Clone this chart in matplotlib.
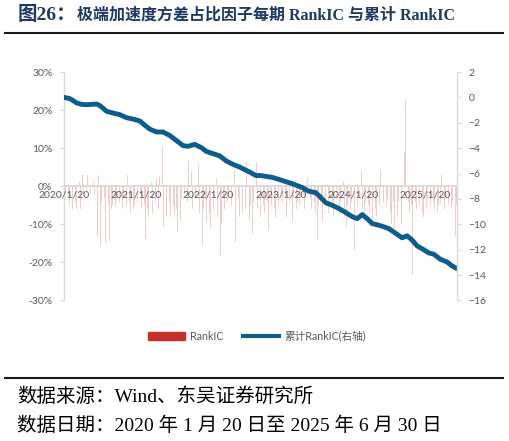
import numpy as np
import matplotlib
matplotlib.use('Agg')
import matplotlib.pyplot as plt
import matplotlib.patches as mpatches
import matplotlib.lines as mlines
from matplotlib.ticker import FuncFormatter

plt.rcParams['font.family'] = ['Lato', 'Noto Sans CJK SC']

# weekly RankIC (%), 2020/1/20 .. 2025/6/30
rank_ic = [
    0.5, -2, 1, -3, -5, -7, -6, -11, -4, -6,
    -3, 1, -6, 3, -2, 2.5, -1, 3, 2, -2,
    -1, 1.5, -2, 5.7, -13, 3, -15.8, -4, -11.6, -3,
    -15, -6, -5, -14.5, -6, -5, -4, -5, -3, -6,
    -4, -2, -6, -3, -10, -5, 3, -4, -7, -3,
    -6, -5, -8, -4, -7, -2, -6, -18, -5, -13.8,
    -6, -8, -3, 1, -7, -5, -4, 2, -6, 2.5,
    -3, 10.4, -10.7, -2, -8, -6, -4, -8, -3, -5,
    -7, -6, -12, -4, -9, -3, -14, -2, 5.3, -4,
    6.8, -3, 4, -6, -8, -3, -10, 5.8, -7, -5,
    -15.5, -6, -3, -9, 1, -7, -11, -5, -6, -3,
    2.3, -8, -4, -18, -10, -3, -6, -8, -4, -2,
    -9, -5, -12, 4, -14.6, -6, -3, -8, -5, -7,
    -4, -6, 6.4, -3, -9, -5, -12.5, -4, 2, 6.4,
    -6, -4, -8, -3, -5, -7, -2, -4, -11.6, -3,
    -5, 4.6, -6, -8, -3, -5, -7, -2, -4, -6,
    -3, -8, -5, -4, -2, -9, -3, 2.5, -6, -4,
    -5, -3, -7, -2, -6, -4, 2.3, -5, -3, -6,
    -10.7, -4, -7, -14.2, -5, -8, -3, -9, -6, -4,
    -5, -7, -3, -6, -4, -8, -5, -3, -6, -7,
    -4, -15.5, 1.5, -8, -10.7, -5, -3, -6, -4, -7,
    -16.7, 1.5, -5, -3, 20, 3.8, -6, -8, -4, -11.6,
    -5, -7, -3, -9, -4, -6, -8, -3, -5, 4.2,
    -6, -4, -9, -5, -3, 4.2, -7, -10, -4, -11,
    -5, -8, -4, -6, -10, 3.3, 9, 22.6, -6, -4,
    -7, -5, -23.4, -8, -4, -6, -9, -5, -3, -7,
    -8, -4, -6, -3, -9, -5, -10.7, -4, -6, -3,
    -7, -5, -4, 2.9, -8, -6, -3, -9, -5, -11,
    -6, -4, -7, -13, -5,
]

# cumulative RankIC (right axis), read at week positions
cum_week = [0, 4.3, 9.1, 12.8, 16.4, 23.6, 25.9, 30.8, 35.3, 40.3,
            45.2, 49.7, 54.8, 58.4, 62, 66.8, 71.5, 76.4, 81.2, 86,
            89.6, 94.4, 99.2, 102.8, 107.6, 112.4, 117.2, 122, 126.8, 134,
            138.8, 141.8, 150.6, 155.6, 165, 172.2, 177.2, 182, 185.7, 189.3,
            194, 198.8, 203.7, 208.4, 212, 215.6, 219.2, 222.8, 227.7, 231.3,
            234.9, 239.7, 244.5, 248, 251.7, 255.3, 260.1, 263.7, 267.3, 272.1,
            276.9, 280.5, 284]
cum_ic = [0.0, -0.1, -0.44, -0.55, -0.57, -0.52, -0.65, -1.1, -1.23, -1.36,
          -1.6, -1.7, -1.86, -2.2, -2.5, -2.72, -2.72, -3.0, -3.4, -3.8,
          -3.85, -3.7, -3.95, -4.25, -4.43, -4.6, -5.0, -5.27, -5.48, -5.87,
          -6.16, -6.15, -6.3, -6.47, -6.8, -7.1, -7.4, -7.5, -7.9, -8.3,
          -8.5, -8.76, -9.07, -9.4, -9.55, -9.23, -9.55, -9.94, -10.07, -10.2,
          -10.34, -10.7, -11.06, -10.9, -11.24, -11.7, -12.0, -12.25, -12.35, -12.75,
          -12.96, -13.27, -13.48]

tick_week = [0, 52.29, 104.43, 156.57, 208.71, 261.0]
tick_labels = ['2020/1/20', '2021/1/20', '2022/1/20', '2023/1/20', '2024/1/20', '2025/1/20']

bar_color = '#f3cccc'
legend_red = '#c9302c'
line_color = '#0b5e8c'
grey = '#d9d9d9'
txt = '#595959'

fig = plt.figure(figsize=(5.09, 4.41), dpi=100)
ax = fig.add_axes([0.1248, 0.3186, 0.774, 0.518])
ax2 = ax.twinx()

weeks = np.arange(len(rank_ic))
ax.bar(weeks, rank_ic, width=0.5, color=bar_color, linewidth=0)
ax.set_ylim(-30, 30)
ax.set_yticks(np.arange(-30, 31, 10))
ax.yaxis.set_major_formatter(FuncFormatter(lambda v, p: '%d%%' % v))
ax.set_xlim(-0.5, 284.5)
ax.set_xticks(tick_week)
ax.set_xticklabels(tick_labels)

ax2.plot(cum_week, cum_ic, color=line_color, lw=3.5, solid_capstyle='round',
         solid_joinstyle='round')
ax2.set_ylim(-16, 2)
ax2.set_yticks(np.arange(-16, 3, 2))

for a in (ax, ax2):
    a.spines['top'].set_visible(False)
    for s in a.spines.values():
        s.set_color(grey)
        s.set_linewidth(1.0)
    a.tick_params(axis='y', colors=grey, labelcolor=txt, labelsize=7.5,
                  length=3, width=0.8, pad=5)
ax.spines['right'].set_visible(False)
ax2.spines['left'].set_visible(False)
ax2.spines['bottom'].set_visible(False)
ax.spines['left'].set_zorder(0.5)
ax.spines['bottom'].set_position(('data', 0))
ax.spines['bottom'].set_linewidth(1.3)
ax.tick_params(axis='x', length=0, labelcolor=txt, labelsize=7.5, pad=3)

handles = [mpatches.Patch(color=legend_red, label='RankIC'),
           mlines.Line2D([], [], color=line_color, lw=3, label='累计RankIC(右轴)')]
leg = fig.legend(handles=handles, loc='center', bbox_to_anchor=(0.505, 0.238),
                 ncol=2, frameon=False, fontsize=7.7, handlelength=3.4,
                 columnspacing=1.8, handletextpad=0.5)
for t in leg.get_texts():
    t.set_color(txt)

navy = '#1f3864'
fig.text(0.035, 0.965, '图26：', fontsize=14, fontweight='bold', color=navy,
         va='center', family=['Liberation Serif', 'Noto Sans CJK SC'])
fig.text(0.151, 0.965, '极端加速度方差占比因子每期 RankIC 与累计 RankIC', fontsize=11.5,
         fontweight='bold', color=navy, va='center',
         family=['Liberation Serif', 'Noto Sans CJK SC'])

fig.add_artist(mlines.Line2D([0.01, 0.988], [0.926, 0.926], color='#1a1a1a', lw=1.5))
fig.add_artist(mlines.Line2D([0.01, 0.988], [0.143, 0.143], color='#1a1a1a', lw=1.5))

foot_font = ['Liberation Serif', 'Noto Sans CJK SC']
fig.text(0.033, 0.102, '数据来源：Wind、东吴证券研究所', fontsize=14, color='black',
         va='center', family=foot_font)
fig.text(0.033, 0.034, '数据日期：2020 年 1 月 20 日至 2025 年 6 月 30 日', fontsize=14,
         color='black', va='center', family=foot_font)

fig.savefig('out.png', dpi=100)
